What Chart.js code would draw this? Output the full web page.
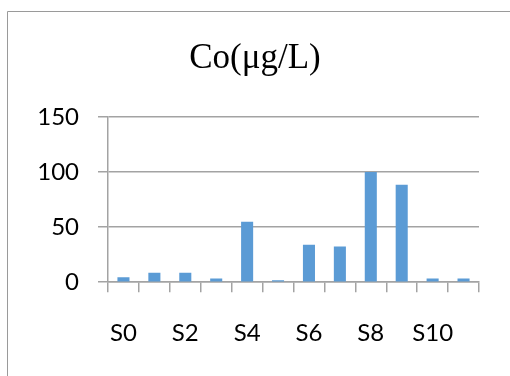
<!DOCTYPE html>
<html>
<head>
<meta charset="utf-8">
<script src="https://cdn.jsdelivr.net/npm/chart.js@4/dist/chart.umd.min.js"></script>
<style>
html,body{margin:0;padding:0;background:#fff;}
#wrap{width:510px;height:376px;position:relative;}
</style>
</head>
<body>
<div id="wrap"><canvas id="c" width="510" height="376"></canvas></div>
<script>
const categories = ["S0","S1","S2","S3","S4","S5","S6","S7","S8","S9","S10","S11"];
const coValues = [4.5, 8.5, 8.5, 3.3, 55, 1.8, 34, 32.5, 100, 88.5, 3.3, 3.3];
const yTicks = [0, 50, 100, 150];
const chartTitle = "Co(μg/L)";

const gridColor = '#a3a3a3';

const framePlugin = {
  id: 'frame',
  beforeDraw(chart) {
    const ctx = chart.ctx;
    ctx.save();
    ctx.fillStyle = '#fff';
    ctx.fillRect(0, 0, chart.width, chart.height);
    ctx.strokeStyle = '#9a9a9a';
    ctx.lineWidth = 1;
    ctx.beginPath();
    ctx.moveTo(7.5, chart.height);
    ctx.lineTo(7.5, 11.5);
    ctx.lineTo(chart.width, 11.5);
    ctx.stroke();
    ctx.restore();
  }
};

new Chart(document.getElementById('c'), {
  type: 'bar',
  data: {
    labels: categories,
    datasets: [{
      data: coValues,
      backgroundColor: '#5B9BD5',
      borderWidth: 0,
      barPercentage: 0.39,
      categoryPercentage: 1
    }]
  },
  options: {
    responsive: false,
    animation: false,
    events: [],
    layout: { padding: { left: 0, right: 0, top: 0, bottom: 1 } },
    plugins: {
      legend: { display: false },
      tooltip: { enabled: false },
      title: {
        display: true,
        text: chartTitle,
        color: '#000',
        font: { family: '"Liberation Serif", "Times New Roman", serif', size: 35, weight: 'normal' },
        padding: { top: 38, bottom: 37 }
      }
    },
    scales: {
      x: {
        grid: {
          display: true,
          offset: true,
          drawOnChartArea: false,
          drawTicks: true,
          tickLength: 10,
          color: gridColor,
          lineWidth: 1.5
        },
        border: { display: true, color: gridColor, width: 1.5 },
        ticks: {
          autoSkip: false,
          maxRotation: 0,
          padding: 27,
          color: '#000',
          font: { family: 'Lato, "Open Sans", sans-serif', size: 24 },
          callback: function(v, i) { return i % 2 === 0 ? categories[i] : ''; }
        }
      },
      y: {
        min: yTicks[0],
        max: yTicks[yTicks.length - 1],
        afterFit: function(scale) { scale.width = 108; },
        afterBuildTicks: function(scale) { scale.ticks = yTicks.map(v => ({ value: v })); },
        grid: {
          color: gridColor,
          lineWidth: 1.5,
          drawTicks: true,
          tickLength: 10
        },
        border: { display: true, color: gridColor, width: 1.5 },
        ticks: {
          padding: 19,
          color: '#000',
          font: { family: 'Lato, "Open Sans", sans-serif', size: 24 }
        }
      },
      yPad: {
        position: 'right',
        display: true,
        grid: { display: false },
        border: { display: false },
        ticks: { display: false },
        afterFit: function(scale) { scale.width = 31; }
      }
    }
  },
  plugins: [framePlugin]
});
</script>
</body>
</html>
